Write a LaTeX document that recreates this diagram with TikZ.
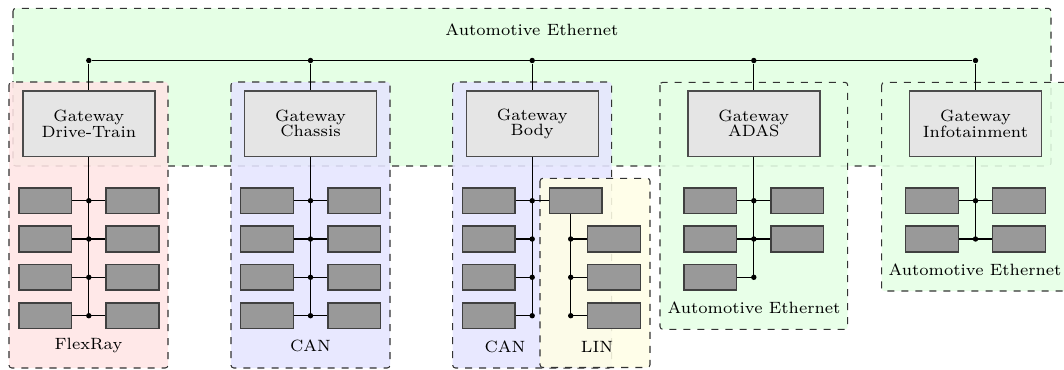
\documentclass[tikz,border=0pt]{standalone}
\usetikzlibrary{calc}
\newlength\pxu
\setlength\pxu{0.01504cm}
\tikzset{
  x=0.01504cm, y=-0.01504cm,
  region/.style={draw=black!80, dashed, line width=0.45pt, rounded corners=1.2pt},
  sub/.style={region, fill opacity=0.88},
  gateway/.style={draw=black!70, fill=black!10, line width=0.6pt,
    minimum width=132\pxu, minimum height=65.5\pxu, align=center,
    font=\scriptsize, inner sep=0pt},
  ecu/.style={draw=black!75, fill=black!40, line width=0.6pt,
    minimum width=52.7\pxu, minimum height=25.7\pxu, inner sep=0pt},
  dot/.style={circle, fill=black, inner sep=0pt, minimum size=5.4\pxu},
  lbl/.style={font=\scriptsize, inner sep=0pt},
  wire/.style={line width=0.45pt, draw=black}
}
\begin{document}
\begin{tikzpicture}
\useasboundingbox (0,0) rectangle (1064,369);

% backbone domain
\draw[region, fill=green!10] (13,8.3) rectangle (1051,166);
\node[lbl] (eth) at (532,30) {Automotive Ethernet};

% domain areas
\draw[sub, fill=red!10]    (9,82) rectangle (168,368);
\draw[sub, fill=blue!10]   (231,82) rectangle (390,368);
\draw[sub, fill=blue!10]   (452.7,82) rectangle (611.7,368);
\draw[sub, fill=yellow!10] (540,178.3) rectangle (650,367.5);
\draw[sub, fill=green!10]  (660,82.3) rectangle (847.7,329.3);
\draw[sub, fill=green!10]  (881.7,82.3) rectangle (1069.4,291);

% gateways on the backbone bus
\foreach \i/\x/\t in {1/88.8/Drive-Train, 2/310.5/Chassis, 3/532.2/Body,
                      4/753.8/ADAS, 5/975.5/Infotainment} {
  \node[gateway] (g\i) at (\x,123.7) {Gateway\\[-1.45pt]\t};
  \node[dot] (b\i) at (\x,60.5) {};
  \draw[wire] (b\i) -- (g\i);
}
\draw[wire] (b1) -- (b5);

% FlexRay and CAN chassis: four rows of ECUs on each side
\foreach \i/\x in {1/88.8, 2/310.5} {
  \foreach \r/\y in {1/200.7, 2/239, 3/277.3, 4/315.7} {
    \node[ecu] (l\i\r) at (\x-43.6,\y) {};
    \node[ecu] (r\i\r) at (\x+43.7,\y) {};
    \node[dot] (j\i\r) at (\x,\y) {};
    \draw[wire] (l\i\r) -- (r\i\r);
  }
  \draw[wire] (g\i.south) -- (j\i4.center);
}

% body CAN with LIN sub-bus
\foreach \r/\y in {1/200.7, 2/239, 3/277.3, 4/315.7} {
  \node[ecu] (l3\r) at (488.7,\y) {};
  \node[dot] (j3\r) at (532.2,\y) {};
}
\draw[wire] (g3.south) -- (j34.center);
\node[ecu] (lm) at (575.8,200.7) {};
\draw[wire] (l31) -- (lm);
\foreach \r in {2,3,4} { \draw[wire] (l3\r) -- (j3\r.center); }
\foreach \r/\y in {2/239, 3/277.3, 4/315.7} {
  \node[dot] (lj\r) at (570.7,\y) {};
  \node[ecu] (ls\r) at (614,\y) {};
  \draw[wire] (lj\r.center) -- (ls\r);
}
\draw[wire] (lm.south -| lj4) -- (lj4.center);

% ADAS ethernet
\foreach \r/\y in {1/200.7, 2/239, 3/277.3} {
  \node[ecu] (l4\r) at (710.2,\y) {};
  \node[dot] (j4\r) at (753.8,\y) {};
}
\foreach \r/\y in {1/200.7, 2/239} {
  \node[ecu] (r4\r) at (797.4,\y) {};
  \draw[wire] (l4\r) -- (r4\r);
}
\draw[wire] (l43) -- (j43.center);
\draw[wire] (g4.south) -- (j43.center);

% infotainment ethernet
\foreach \r/\y in {1/200.7, 2/239} {
  \node[ecu] (l5\r) at (932,\y) {};
  \node[ecu] (r5\r) at (1019,\y) {};
  \node[dot] (j5\r) at (975.5,\y) {};
  \draw[wire] (l5\r) -- (r5\r);
}
\draw[wire] (g5.south) -- (j52.center);

% bus labels
\node[lbl] (t1) at (88.5,345) {FlexRay};
\node[lbl] (t2) at (310.5,346) {CAN};
\node[lbl] (t3) at (505,346.7) {CAN};
\node[lbl] (t4) at (597,346.7) {LIN};
\node[lbl] (t5) at (754,307.7) {Automotive Ethernet};
\node[lbl] (t6) at (975,270) {Automotive Ethernet};
\end{tikzpicture}
\end{document}
